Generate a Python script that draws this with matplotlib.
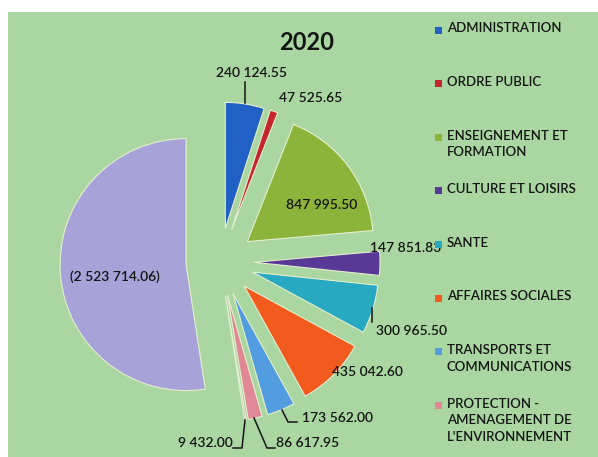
import matplotlib
matplotlib.use("Agg")
import matplotlib.pyplot as plt
from matplotlib.patches import Rectangle

# budget 2020 par fonction
categories = ["ADMINISTRATION", "ORDRE PUBLIC", "ENSEIGNEMENT ET\nFORMATION",
              "CULTURE ET LOISIRS", "SANTE", "AFFAIRES SOCIALES",
              "TRANSPORTS ET\nCOMMUNICATIONS",
              "PROTECTION -\nAMENAGEMENT DE\nL'ENVIRONNEMENT"]
values = [240124.55, 47525.65, 847995.50, 147851.83, 300965.50,
          435042.60, 173562.00, 86617.95]
# petite part sans légende + solde négatif (affiché entre parenthèses)
extra_value = 9432.00
deficit = 2523714.06

colors = ["#2160c4", "#c4262e", "#8db43a", "#583a96", "#28a9c2",
          "#f25a1e", "#529ce0", "#e08896"]
extra_color = "#d98aa8"
deficit_color = "#a7a3d8"
bg = "#a9d6a1"

plt.rcParams["font.family"] = ["Lato", "DejaVu Sans"]

W, H = 598, 457
R = 126.0
CX, CY = 220, 262


def px(x, y):
    # pixel (depuis le haut) -> coordonnées des données
    return (x - CX) / R, (CY - y) / R


fig = plt.figure(figsize=(W / 100, H / 100), dpi=100)
fig.patch.set_facecolor("white")
fig.patches.append(Rectangle((8 / W, 0), 1, (H - 12) / H, transform=fig.transFigure,
                             facecolor=bg, edgecolor="none", zorder=-1))

ax = fig.add_axes([0, 0, 1, 1])
ax.set_facecolor("none")

all_vals = values + [extra_value, deficit]
all_cols = colors + [extra_color, deficit_color]
ax.pie(all_vals, colors=all_cols, startangle=90, counterclock=False,
       radius=1, center=(0, 0), explode=[0.27] * len(all_vals),
       wedgeprops=dict(edgecolor="#e6efcf", linewidth=0.8), frame=True)

ax.set_xlim(-CX / R, (W - CX) / R)
ax.set_ylim(-(H - CY) / R, CY / R)
ax.set_aspect("equal")
ax.axis("off")


def fmt(v):
    s = f"{v:,.2f}".replace(",", " ")
    return s


txt = "#151515"
fs = 10
fw = "semibold"
label_pos = [(251, 73), (311, 98), (322, 205), (406, 248), (412, 331),
             (367, 372), (337, 418), (308, 443)]
for v, (x, y) in zip(values, label_pos):
    ax.text(*px(x, y), fmt(v), ha="center", va="center", fontsize=fs,
            fontweight=fw, color=txt, zorder=5)
ax.text(*px(205, 443), fmt(extra_value), ha="center", va="center", fontsize=fs,
        fontweight=fw, color=txt)
ax.text(*px(115, 277), "(" + fmt(deficit) + ")", ha="center", va="center",
        fontsize=fs, fontweight=fw, color=txt)

# traits de rappel
leaders = [
    [(245, 82), (245, 103)],
    [(372, 308), (372, 322)],
    [(282, 410), (288, 422), (297, 422)],
    [(254, 418), (267, 448), (275, 448)],
    [(233, 448), (242, 448), (245, 420)],
]
for pts in leaders:
    xs, ys = zip(*[px(a, b) for a, b in pts])
    ax.plot(xs, ys, color=txt, lw=1.1, zorder=4)

ax.text(*px(307, 42), "2020", ha="center", va="center", fontsize=17,
        fontweight="bold", color=txt)

# légende
for i, (name, col) in enumerate(zip(categories, colors)):
    yc = 30 + 53.6 * i
    fig.patches.append(Rectangle((435 / W, 1 - (yc + 3.5) / H), 7 / W, 7 / H,
                                 transform=fig.transFigure, facecolor=col,
                                 edgecolor="none", zorder=6))
    fig.text(447 / W, 1 - (yc - 7.5) / H, name, ha="left", va="top",
             fontsize=9.5, fontweight=fw, color=txt, linespacing=1.45, zorder=6)

fig.savefig("out.png", dpi=100, facecolor=fig.get_facecolor())
